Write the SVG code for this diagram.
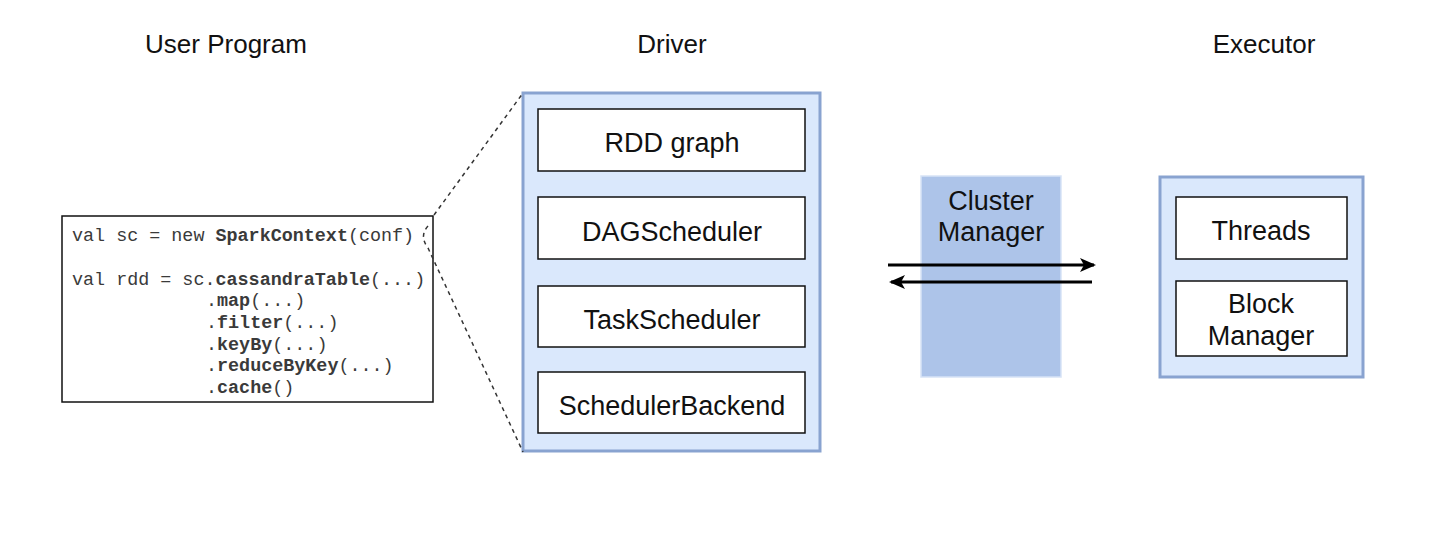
<svg xmlns="http://www.w3.org/2000/svg" width="1452" height="554" viewBox="0 0 1452 554">
<defs>
<style>
.title{font-family:"Liberation Sans",Arial,sans-serif;font-size:26px;fill:#111;text-anchor:middle}
.lbl{font-family:"Liberation Sans",Arial,sans-serif;font-size:27px;fill:#111;text-anchor:middle}
.code{font-family:"Liberation Mono","Courier New",monospace;font-size:18.4px;fill:#3a3a3a}
.b{font-weight:bold}
.inner{fill:#ffffff;stroke:#111;stroke-width:1.5}
.outer{fill:#dae8fc;stroke:#89a3d0;stroke-width:3}
.dash{fill:none;stroke:#333;stroke-width:1.5;stroke-dasharray:4 4}
.arrow{fill:none;stroke:#000;stroke-width:3}
</style>
<marker id="ah" viewBox="0 0 16 14" refX="14" refY="7" markerWidth="16" markerHeight="14" markerUnits="userSpaceOnUse" orient="auto">
<path d="M0,0 L16,7 L0,14 L4,7 Z" fill="#000"/>
</marker>
</defs>
<rect width="1452" height="554" fill="#ffffff"/>

<g id="titles">
<text class="title" x="226" y="53">User Program</text>
<text class="title" x="672" y="53">Driver</text>
<text class="title" x="1264" y="53">Executor</text>
</g>

<g id="user-program">
<rect x="62" y="216" width="371" height="186" fill="#ffffff" stroke="#111" stroke-width="1.5"/>
<text class="code" x="72" y="241">val sc = new <tspan class="b">SparkContext</tspan>(conf)</text>
<text class="code" x="72" y="285">val rdd = sc.<tspan class="b">cassandraTable</tspan>(...)</text>
<text class="code" x="206" y="306">.<tspan class="b">map</tspan>(...)</text>
<text class="code" x="206" y="328">.<tspan class="b">filter</tspan>(...)</text>
<text class="code" x="206" y="350">.<tspan class="b">keyBy</tspan>(...)</text>
<text class="code" x="206" y="371">.<tspan class="b">reduceByKey</tspan>(...)</text>
<text class="code" x="206" y="393">.<tspan class="b">cache</tspan>()</text>
</g>

<g id="driver">
<rect class="outer" x="523" y="93" width="297" height="358"/>
<g id="rdd-graph">
<rect class="inner" x="538" y="109" width="267" height="62"/>
<text class="lbl" x="672" y="152">RDD graph</text>
</g>
<g id="dag-scheduler">
<rect class="inner" x="538" y="197" width="267" height="62"/>
<text class="lbl" x="672" y="241">DAGScheduler</text>
</g>
<g id="task-scheduler">
<rect class="inner" x="538" y="286" width="267" height="61"/>
<text class="lbl" x="672" y="329">TaskScheduler</text>
</g>
<g id="scheduler-backend">
<rect class="inner" x="538" y="372" width="267" height="61"/>
<text class="lbl" x="672" y="415">SchedulerBackend</text>
</g>
</g>

<g id="cluster-manager">
<rect x="921" y="176" width="140" height="201" fill="#adc4e9" stroke="#d7e3f6" stroke-width="1.5"/>
<text class="lbl" x="991" y="210">Cluster</text>
<text class="lbl" x="991" y="241">Manager</text>
</g>

<g id="executor">
<rect class="outer" x="1160" y="177" width="203" height="200"/>
<g id="threads">
<rect class="inner" x="1176" y="197" width="171" height="62"/>
<text class="lbl" x="1261" y="240">Threads</text>
</g>
<g id="block-manager">
<rect class="inner" x="1176" y="281" width="171" height="75"/>
<text class="lbl" x="1261" y="313">Block</text>
<text class="lbl" x="1261" y="345">Manager</text>
</g>
</g>

<g id="connectors">
<path class="dash" d="M434,215 L523,93"/>
<path class="dash" d="M428,226 Q419,236 428,248 L523,452"/>
<path class="arrow" d="M888,265 L1094,265" marker-end="url(#ah)"/>
<path class="arrow" d="M1092,282 L891,282" marker-end="url(#ah)"/>
</g>
</svg>
